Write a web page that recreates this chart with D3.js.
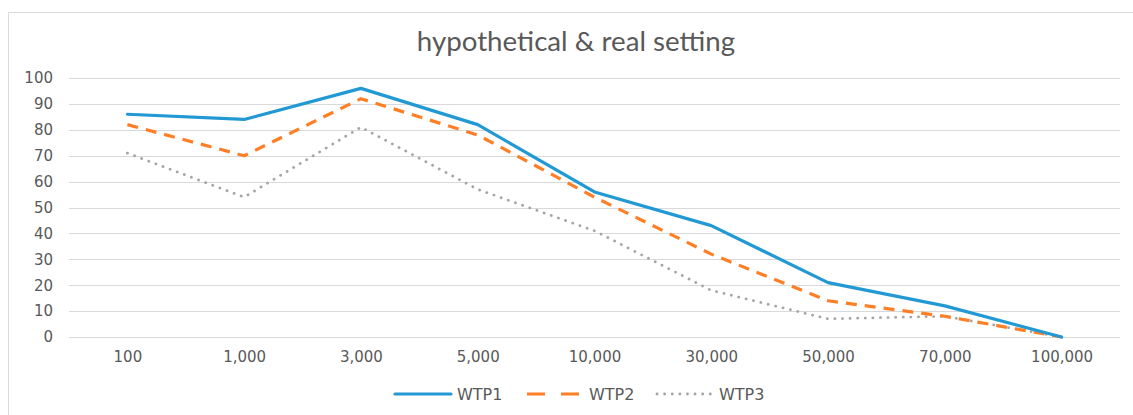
<!DOCTYPE html>
<html>
<head>
<meta charset="utf-8">
<script src="https://cdn.jsdelivr.net/npm/d3@7"></script>
<style>
  body { margin: 0; background: #fff; }
  svg text { font-family: "DejaVu Sans", sans-serif; fill: #595959; }
</style>
</head>
<body>
<div class="svg-container"></div>
<script>
// chart data
var categories = ["100", "1,000", "3,000", "5,000", "10,000", "30,000", "50,000", "70,000", "100,000"];
var wtp1 = [86, 84, 96, 82, 56, 43, 21, 12, 0];
var wtp2 = [82, 70, 92, 78, 54, 32, 14, 8, 0];
var wtp3 = [71, 54, 81, 57, 41, 18, 7, 8, 0];
var yTicks = [0, 10, 20, 30, 40, 50, 60, 70, 80, 90, 100];
var seriesNames = ["WTP1", "WTP2", "WTP3"];

var W = 1133, H = 415;
var margin = {top: 78, right: 13, bottom: 78, left: 69},
    width = W - margin.left - margin.right,
    height = H - margin.top - margin.bottom;

var svg = d3.select(".svg-container").append("svg")
    .attr("width", W)
    .attr("height", H);

// outer chart frame (cut off at right / bottom like the screenshot)
svg.append("rect")
    .attr("x", 8.5).attr("y", 12.5)
    .attr("width", W + 20).attr("height", H + 20)
    .style("fill", "none")
    .style("stroke", "#d9d9d9");

var title = svg.append("text")
    .attr("x", 576).attr("y", 51)
    .attr("text-anchor", "middle")
    .style("font-family", "Lato, sans-serif")
    .style("font-size", "24px")
    .text("hypothetical & real setting");
// fit title to the width seen in the picture
var tw = title.node().getComputedTextLength();
title.style("font-size", (24 * 318 / tw).toFixed(1) + "px");

var g = svg.append("g")
    .attr("transform", "translate(" + margin.left + "," + margin.top + ")");

var xScale = d3.scalePoint().domain(categories).range([0, width]).padding(0.5);
var yScale = d3.scaleLinear().domain([0, 100]).range([height, 0]);

// gridlines
g.append("g")
    .selectAll("line")
    .data(yTicks)
    .enter()
    .append("line")
        .attr("x1", 0).attr("x2", width)
        .attr("y1", function(d) { return Math.round(yScale(d)) + 0.5; })
        .attr("y2", function(d) { return Math.round(yScale(d)) + 0.5; })
        .style("stroke", "#d9d9d9")
        .style("stroke-width", 1);

// axes
var yaxis = d3.axisLeft(yScale).tickValues(yTicks).tickSize(0).tickPadding(16);
var xaxis = d3.axisBottom(xScale).tickSize(0).tickPadding(14);

g.append("g").attr("class", "axis").call(yaxis)
    .call(function(s) { s.select(".domain").remove(); })
    .selectAll("text")
    .style("font-family", "DejaVu Sans, sans-serif")
    .style("font-size", "15px").style("fill", "#595959");

g.append("g").attr("class", "axis")
    .attr("transform", "translate(0," + height + ")")
    .call(xaxis)
    .call(function(s) { s.select(".domain").remove(); })
    .selectAll("text")
    .style("font-family", "DejaVu Sans, sans-serif")
    .style("font-size", "15px").style("fill", "#595959");

var styles = [
    {color: "#2399d4", width: 3.2, dash: null, cap: "round"},
    {color: "#ff7f27", width: 3.2, dash: "11 8", cap: "butt"},
    {color: "#a5a5a5", width: 2.8, dash: "0.1 7.5", cap: "round"}
];
var allSeries = [wtp1, wtp2, wtp3];

var line = d3.line()
    .x(function(d, i) { return xScale(categories[i]); })
    .y(function(d) { return yScale(d); });

// draw lines, WTP3 first so WTP1 stays on top
[2, 1, 0].forEach(function(k) {
    g.append("path")
        .datum(allSeries[k])
        .attr("d", line)
        .style("fill", "none")
        .style("stroke", styles[k].color)
        .style("stroke-width", styles[k].width)
        .style("stroke-linejoin", "round")
        .style("stroke-linecap", styles[k].cap)
        .style("stroke-dasharray", styles[k].dash);
});

// legend
var legendX = [395, 527, 657];
var legend = svg.append("g");
seriesNames.forEach(function(name, k) {
    legend.append("line")
        .attr("x1", legendX[k]).attr("x2", legendX[k] + (k === 1 ? 52 : 56))
        .attr("y1", 394).attr("y2", 394)
        .style("stroke", styles[k].color)
        .style("stroke-width", styles[k].width)
        .style("stroke-linecap", styles[k].cap)
        .style("stroke-dasharray", k === 1 ? "18 16" : styles[k].dash);
    legend.append("text")
        .attr("x", legendX[k] + 62).attr("y", 399.5)
        .style("font-size", "16px")
        .text(name);
});
</script>
</body>
</html>
